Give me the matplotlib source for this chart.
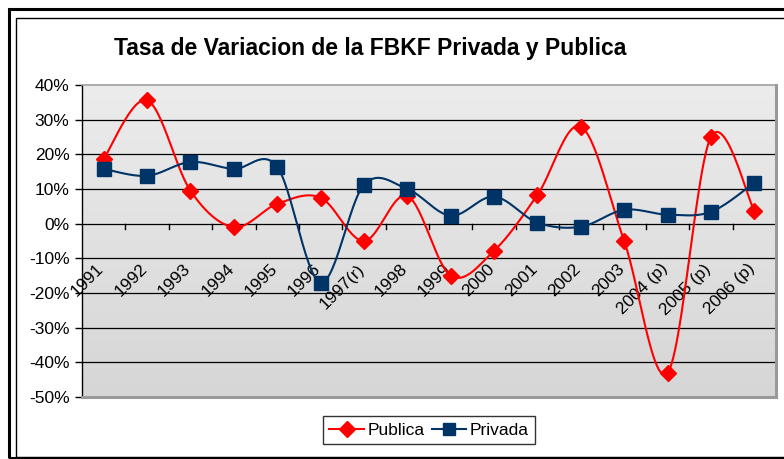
import numpy as np
import matplotlib
matplotlib.use("Agg")
import matplotlib.pyplot as plt
from matplotlib.patches import Rectangle
from matplotlib.lines import Line2D

plt.rcParams['font.family'] = ['Liberation Sans', 'DejaVu Sans']

years = ['1991', '1992', '1993', '1994', '1995', '1996', '1997(r)', '1998', '1999',
         '2000', '2001', '2002', '2003', '2004 (p)', '2005 (p)', '2006 (p)']
publica = [18.7, 35.6, 9.5, -1.0, 5.7, 7.5, -5.0, 8.0, -15.0, -7.8, 8.3, 28.0, -5.0, -43.0, 25.0, 3.7]
privada = [15.8, 13.8, 17.8, 15.8, 16.4, -17.0, 11.2, 10.0, 2.3, 7.8, 0.3, -0.9, 4.0, 2.6, 3.4, 11.8]
yticks = [40, 30, 20, 10, 0, -10, -20, -30, -40, -50]
title = 'Tasa de Variacion de la FBKF Privada y Publica'


def smooth(x, y, n=30):
    x = np.asarray(x, float); y = np.asarray(y, float)
    P = np.column_stack([x, y])
    out = []
    m = len(P)
    for i in range(m - 1):
        p0 = P[i - 1] if i > 0 else P[i]
        p1 = P[i]
        p2 = P[i + 1]
        p3 = P[i + 2] if i + 2 < m else P[i + 1]
        c1 = p1 + (p2 - p0) / 6.0
        c2 = p2 - (p3 - p1) / 6.0
        t = np.linspace(0, 1, n)[:, None]
        seg = ((1 - t) ** 3) * p1 + 3 * ((1 - t) ** 2) * t * c1 + 3 * (1 - t) * t ** 2 * c2 + t ** 3 * p2
        out.append(seg if i == 0 else seg[1:])
    s = np.vstack(out)
    return s[:, 0], s[:, 1]


fig = plt.figure(figsize=(7.84, 4.59), dpi=100)
fig.patch.set_facecolor('white')

# outer frames
fig.add_artist(Rectangle((9 / 784, 1 - 458 / 459), 1.2, 449 / 459, transform=fig.transFigure,
                         fill=False, edgecolor='black', linewidth=2.2))
fig.add_artist(Rectangle((16 / 784, 1 - 456.5 / 459), 1.2, 439 / 459, transform=fig.transFigure,
                         fill=False, edgecolor='black', linewidth=1.0))

ax = fig.add_axes([82 / 784, 1 - 397 / 459, 694 / 784, 312 / 459])
n = len(years)
ax.set_xlim(-0.5, n - 0.5)
ax.set_ylim(-50, 40)

# gradient background
grad = np.linspace(0, 1, 256)[:, None]
cmap = matplotlib.colors.LinearSegmentedColormap.from_list('g', ['#ececec', '#d6d6d6'])
ax.imshow(grad, extent=[0, 1, 0, 1], transform=ax.transAxes, aspect='auto', cmap=cmap,
          origin='upper', zorder=0)

for v in yticks[1:-1]:
    ax.axhline(v, color='black', linewidth=0.9, zorder=1)

x = np.arange(n)
sx, sy = smooth(x, publica)
ax.plot(sx, sy, color='#ff0000', linewidth=1.5, zorder=3)
ax.plot(x, publica, linestyle='none', marker='D', markersize=8.5, color='#ff0000', zorder=4)
sx, sy = smooth(x, privada)
ax.plot(sx, sy, color='#003366', linewidth=1.5, zorder=3)
ax.plot(x, privada, linestyle='none', marker='s', markersize=9.5, color='#003366', zorder=4)

# category tick marks on zero line
for b in np.arange(0.5, n - 0.5, 1.0):
    ax.plot([b, b], [0, -1.6], color='black', linewidth=1.0, zorder=2, clip_on=False)

# category labels
for i, lab in enumerate(years):
    ax.annotate(lab, xy=(i, 0), xytext=(-5.5, -27), textcoords='offset points',
                rotation=45, rotation_mode='anchor', ha='right', va='top', fontsize=12.5,
                zorder=2)

ax.set_xticks([])
ax.set_yticks(yticks)
ax.set_yticklabels([f'{v}%' for v in yticks], fontsize=12.5)
ax.tick_params(axis='y', direction='out', length=5, width=1, color='black', pad=4)

for s in ['top']:
    ax.spines[s].set_color('#a0a0a0'); ax.spines[s].set_linewidth(1.2)
for s in ['right', 'bottom']:
    ax.spines[s].set_color('#9a9a9a'); ax.spines[s].set_linewidth(2.2)
ax.spines['left'].set_color('black'); ax.spines['left'].set_linewidth(1.0)

fig.text(370 / 784, 1 - 49 / 459, title, ha='center', va='center', fontsize=16.5, fontweight='bold')

handles = [Line2D([], [], color='#ff0000', marker='D', markersize=8, linewidth=1.5),
           Line2D([], [], color='#003366', marker='s', markersize=8, linewidth=1.5)]
leg = fig.legend(handles, ['Publica', 'Privada'], loc='center', bbox_to_anchor=(429 / 784, 1 - 430 / 459),
                 ncol=2, fontsize=12.5, frameon=True, fancybox=False, edgecolor='black',
                 handlelength=2.0, handletextpad=0.2, columnspacing=0.4, borderpad=0.35,
                 borderaxespad=0)
leg.get_frame().set_linewidth(1.0)

fig.savefig('out.png', dpi=100)
